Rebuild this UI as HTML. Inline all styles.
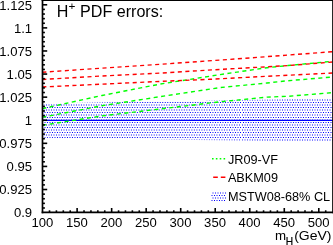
<!DOCTYPE html>
<html><head><meta charset="utf-8"><title>H+ PDF errors</title>
<style>html,body{margin:0;padding:0;background:#fff;overflow:hidden}svg{display:block}text{font-family:"Liberation Sans",sans-serif;fill:#000}</style>
</head><body>
<svg width="333" height="245" viewBox="0 0 333 245">
<defs>
<filter id="soft" x="-5%" y="-5%" width="110%" height="110%" color-interpolation-filters="sRGB"><feGaussianBlur stdDeviation="0.35"/></filter>
<clipPath id="plot"><rect x="42.5" y="0" width="290.1" height="212.4"/></clipPath>
</defs>
<rect width="333" height="245" fill="#fff"/>
<clipPath id="band"><polygon points="43.4,103.59 332.6,98.30 332.6,142.04 43.4,137.76"/></clipPath>
<g stroke="#0000ff" stroke-width="1.0" clip-path="url(#band)">
<line x1="206.42" y1="100.00" x2="240.04" y2="100.00" stroke-dasharray="1.0 1.5090"/>
<line x1="242.00" y1="100.00" x2="333.00" y2="100.00" stroke-dasharray="1.0 1.5000"/>
<line x1="69.48" y1="102.50" x2="137.91" y2="102.50" stroke-dasharray="1.0 1.4975"/>
<line x1="139.68" y1="102.50" x2="241.04" y2="102.50" stroke-dasharray="1.0 1.5090"/>
<line x1="243.00" y1="102.50" x2="334.00" y2="102.50" stroke-dasharray="1.0 1.5000"/>
<line x1="43.50" y1="105.00" x2="139.41" y2="105.00" stroke-dasharray="1.0 1.4975"/>
<line x1="141.18" y1="105.00" x2="240.04" y2="105.00" stroke-dasharray="1.0 1.5090"/>
<line x1="242.00" y1="105.00" x2="333.00" y2="105.00" stroke-dasharray="1.0 1.5000"/>
<line x1="44.50" y1="107.50" x2="137.91" y2="107.50" stroke-dasharray="1.0 1.4975"/>
<line x1="139.68" y1="107.50" x2="241.04" y2="107.50" stroke-dasharray="1.0 1.5090"/>
<line x1="243.00" y1="107.50" x2="334.00" y2="107.50" stroke-dasharray="1.0 1.5000"/>
<line x1="43.50" y1="110.00" x2="139.41" y2="110.00" stroke-dasharray="1.0 1.4975"/>
<line x1="141.18" y1="110.00" x2="240.04" y2="110.00" stroke-dasharray="1.0 1.5090"/>
<line x1="242.00" y1="110.00" x2="333.00" y2="110.00" stroke-dasharray="1.0 1.5000"/>
<line x1="44.50" y1="112.50" x2="137.91" y2="112.50" stroke-dasharray="1.0 1.4975"/>
<line x1="139.68" y1="112.50" x2="241.04" y2="112.50" stroke-dasharray="1.0 1.5090"/>
<line x1="243.00" y1="112.50" x2="334.00" y2="112.50" stroke-dasharray="1.0 1.5000"/>
<line x1="43.50" y1="115.00" x2="139.41" y2="115.00" stroke-dasharray="1.0 1.4975"/>
<line x1="141.18" y1="115.00" x2="240.04" y2="115.00" stroke-dasharray="1.0 1.5090"/>
<line x1="242.00" y1="115.00" x2="333.00" y2="115.00" stroke-dasharray="1.0 1.5000"/>
<line x1="44.50" y1="117.50" x2="137.91" y2="117.50" stroke-dasharray="1.0 1.4975"/>
<line x1="139.68" y1="117.50" x2="241.04" y2="117.50" stroke-dasharray="1.0 1.5090"/>
<line x1="243.00" y1="117.50" x2="334.00" y2="117.50" stroke-dasharray="1.0 1.5000"/>
<line x1="43.50" y1="120.00" x2="139.41" y2="120.00" stroke-dasharray="1.0 1.4975"/>
<line x1="141.18" y1="120.00" x2="240.04" y2="120.00" stroke-dasharray="1.0 1.5090"/>
<line x1="242.00" y1="120.00" x2="333.00" y2="120.00" stroke-dasharray="1.0 1.5000"/>
<line x1="44.50" y1="122.50" x2="137.91" y2="122.50" stroke-dasharray="1.0 1.4975"/>
<line x1="139.68" y1="122.50" x2="241.04" y2="122.50" stroke-dasharray="1.0 1.5090"/>
<line x1="243.00" y1="122.50" x2="334.00" y2="122.50" stroke-dasharray="1.0 1.5000"/>
<line x1="43.50" y1="125.00" x2="139.41" y2="125.00" stroke-dasharray="1.0 1.4975"/>
<line x1="141.18" y1="125.00" x2="240.04" y2="125.00" stroke-dasharray="1.0 1.5090"/>
<line x1="242.00" y1="125.00" x2="333.00" y2="125.00" stroke-dasharray="1.0 1.5000"/>
<line x1="44.50" y1="127.50" x2="137.91" y2="127.50" stroke-dasharray="1.0 1.4975"/>
<line x1="139.68" y1="127.50" x2="241.04" y2="127.50" stroke-dasharray="1.0 1.5090"/>
<line x1="243.00" y1="127.50" x2="334.00" y2="127.50" stroke-dasharray="1.0 1.5000"/>
<line x1="43.50" y1="130.00" x2="139.41" y2="130.00" stroke-dasharray="1.0 1.4975"/>
<line x1="141.18" y1="130.00" x2="240.04" y2="130.00" stroke-dasharray="1.0 1.5090"/>
<line x1="242.00" y1="130.00" x2="333.00" y2="130.00" stroke-dasharray="1.0 1.5000"/>
<line x1="44.50" y1="132.50" x2="137.91" y2="132.50" stroke-dasharray="1.0 1.4975"/>
<line x1="139.68" y1="132.50" x2="241.04" y2="132.50" stroke-dasharray="1.0 1.5090"/>
<line x1="243.00" y1="132.50" x2="334.00" y2="132.50" stroke-dasharray="1.0 1.5000"/>
<line x1="43.50" y1="135.00" x2="139.41" y2="135.00" stroke-dasharray="1.0 1.4975"/>
<line x1="141.18" y1="135.00" x2="240.04" y2="135.00" stroke-dasharray="1.0 1.5090"/>
<line x1="242.00" y1="135.00" x2="333.00" y2="135.00" stroke-dasharray="1.0 1.5000"/>
<line x1="44.50" y1="137.50" x2="137.91" y2="137.50" stroke-dasharray="1.0 1.4975"/>
<line x1="139.68" y1="137.50" x2="241.04" y2="137.50" stroke-dasharray="1.0 1.5090"/>
<line x1="243.00" y1="137.50" x2="334.00" y2="137.50" stroke-dasharray="1.0 1.5000"/>
<line x1="153.73" y1="140.00" x2="240.04" y2="140.00" stroke-dasharray="1.0 1.5090"/>
<line x1="242.00" y1="140.00" x2="333.00" y2="140.00" stroke-dasharray="1.0 1.5000"/>
<line x1="323.00" y1="142.50" x2="334.00" y2="142.50" stroke-dasharray="1.0 1.5000"/>
</g>
<line x1="42.6" y1="120.33" x2="332.6" y2="120.33" stroke="#0000ff" stroke-width="1.3"/>
<polyline points="42.3,108.6 102.0,95.5 160.0,84.1 220.0,74.6 267.0,67.7 288.0,65.5 332.6,61.3" fill="none" stroke="#00ff00" stroke-width="1.4" stroke-dasharray="4.05 3.49" clip-path="url(#plot)"/>
<polyline points="42.3,117.3 102.0,105.7 160.0,96.7 220.0,87.6 267.0,83.0 288.0,80.7 332.6,77.0" fill="none" stroke="#00ff00" stroke-width="1.4" stroke-dasharray="4.05 3.49" clip-path="url(#plot)"/>
<polyline points="42.3,125.3 102.0,115.9 160.0,109.0 220.0,101.8 267.0,97.1 288.0,96.3 332.6,92.6" fill="none" stroke="#00ff00" stroke-width="1.4" stroke-dasharray="4.05 3.49" clip-path="url(#plot)"/>
<polyline points="42.3,72.2 160.0,64.3 245.0,58.3 332.6,51.7" fill="none" stroke="#ff0000" stroke-width="1.4" stroke-dasharray="4.05 3.49" clip-path="url(#plot)"/>
<polyline points="42.3,79.5 102.0,76.0 160.0,73.1 220.0,69.4 267.0,66.8 288.0,65.6 332.6,62.0" fill="none" stroke="#ff0000" stroke-width="1.4" stroke-dasharray="4.05 3.49" clip-path="url(#plot)"/>
<polyline points="42.3,87.0 160.0,81.4 210.0,79.3 267.0,76.3 332.6,73.0" fill="none" stroke="#ff0000" stroke-width="1.4" stroke-dasharray="4.05 3.49" clip-path="url(#plot)"/>
<g stroke="#000" stroke-width="1.7" fill="none" stroke-linecap="square">
<line x1="42.5" y1="0.15" x2="42.5" y2="212.45"/>
<line x1="42.5" y1="212.45" x2="333.0" y2="212.45"/>
<line x1="333.0" y1="0.15" x2="333.0" y2="212.45"/>
<line x1="42.5" y1="0.15" x2="333.0" y2="0.15"/>
</g>
<g stroke="#000" stroke-width="1.6">
<line x1="42.5" y1="207.98" x2="44.9" y2="207.98"/>
<line x1="42.5" y1="203.36" x2="44.9" y2="203.36"/>
<line x1="42.5" y1="198.75" x2="44.9" y2="198.75"/>
<line x1="42.5" y1="194.13" x2="44.9" y2="194.13"/>
<line x1="42.5" y1="189.51" x2="47.2" y2="189.51"/>
<line x1="42.5" y1="184.89" x2="44.9" y2="184.89"/>
<line x1="42.5" y1="180.27" x2="44.9" y2="180.27"/>
<line x1="42.5" y1="175.66" x2="44.9" y2="175.66"/>
<line x1="42.5" y1="171.04" x2="44.9" y2="171.04"/>
<line x1="42.5" y1="166.42" x2="47.2" y2="166.42"/>
<line x1="42.5" y1="161.80" x2="44.9" y2="161.80"/>
<line x1="42.5" y1="157.18" x2="44.9" y2="157.18"/>
<line x1="42.5" y1="152.57" x2="44.9" y2="152.57"/>
<line x1="42.5" y1="147.95" x2="44.9" y2="147.95"/>
<line x1="42.5" y1="143.33" x2="47.2" y2="143.33"/>
<line x1="42.5" y1="138.71" x2="44.9" y2="138.71"/>
<line x1="42.5" y1="134.09" x2="44.9" y2="134.09"/>
<line x1="42.5" y1="129.48" x2="44.9" y2="129.48"/>
<line x1="42.5" y1="124.86" x2="44.9" y2="124.86"/>
<line x1="42.5" y1="120.24" x2="47.2" y2="120.24"/>
<line x1="42.5" y1="115.62" x2="44.9" y2="115.62"/>
<line x1="42.5" y1="111.00" x2="44.9" y2="111.00"/>
<line x1="42.5" y1="106.39" x2="44.9" y2="106.39"/>
<line x1="42.5" y1="101.77" x2="44.9" y2="101.77"/>
<line x1="42.5" y1="97.15" x2="47.2" y2="97.15"/>
<line x1="42.5" y1="92.53" x2="44.9" y2="92.53"/>
<line x1="42.5" y1="87.91" x2="44.9" y2="87.91"/>
<line x1="42.5" y1="83.30" x2="44.9" y2="83.30"/>
<line x1="42.5" y1="78.68" x2="44.9" y2="78.68"/>
<line x1="42.5" y1="74.06" x2="47.2" y2="74.06"/>
<line x1="42.5" y1="69.44" x2="44.9" y2="69.44"/>
<line x1="42.5" y1="64.82" x2="44.9" y2="64.82"/>
<line x1="42.5" y1="60.21" x2="44.9" y2="60.21"/>
<line x1="42.5" y1="55.59" x2="44.9" y2="55.59"/>
<line x1="42.5" y1="50.97" x2="47.2" y2="50.97"/>
<line x1="42.5" y1="46.35" x2="44.9" y2="46.35"/>
<line x1="42.5" y1="41.73" x2="44.9" y2="41.73"/>
<line x1="42.5" y1="37.12" x2="44.9" y2="37.12"/>
<line x1="42.5" y1="32.50" x2="44.9" y2="32.50"/>
<line x1="42.5" y1="27.88" x2="47.2" y2="27.88"/>
<line x1="42.5" y1="23.26" x2="44.9" y2="23.26"/>
<line x1="42.5" y1="18.64" x2="44.9" y2="18.64"/>
<line x1="42.5" y1="14.03" x2="44.9" y2="14.03"/>
<line x1="42.5" y1="9.41" x2="44.9" y2="9.41"/>
<line x1="42.5" y1="4.79" x2="47.2" y2="4.79"/>
<line x1="49.51" y1="212.45" x2="49.51" y2="210.3"/>
<line x1="56.41" y1="212.45" x2="56.41" y2="210.3"/>
<line x1="63.31" y1="212.45" x2="63.31" y2="210.3"/>
<line x1="70.22" y1="212.45" x2="70.22" y2="210.3"/>
<line x1="77.12" y1="212.45" x2="77.12" y2="208.0"/>
<line x1="84.03" y1="212.45" x2="84.03" y2="210.3"/>
<line x1="90.94" y1="212.45" x2="90.94" y2="210.3"/>
<line x1="97.84" y1="212.45" x2="97.84" y2="210.3"/>
<line x1="104.75" y1="212.45" x2="104.75" y2="210.3"/>
<line x1="111.65" y1="212.45" x2="111.65" y2="208.0"/>
<line x1="118.56" y1="212.45" x2="118.56" y2="210.3"/>
<line x1="125.46" y1="212.45" x2="125.46" y2="210.3"/>
<line x1="132.37" y1="212.45" x2="132.37" y2="210.3"/>
<line x1="139.27" y1="212.45" x2="139.27" y2="210.3"/>
<line x1="146.18" y1="212.45" x2="146.18" y2="208.0"/>
<line x1="153.08" y1="212.45" x2="153.08" y2="210.3"/>
<line x1="159.99" y1="212.45" x2="159.99" y2="210.3"/>
<line x1="166.89" y1="212.45" x2="166.89" y2="210.3"/>
<line x1="173.79" y1="212.45" x2="173.79" y2="210.3"/>
<line x1="180.70" y1="212.45" x2="180.70" y2="208.0"/>
<line x1="187.60" y1="212.45" x2="187.60" y2="210.3"/>
<line x1="194.51" y1="212.45" x2="194.51" y2="210.3"/>
<line x1="201.41" y1="212.45" x2="201.41" y2="210.3"/>
<line x1="208.32" y1="212.45" x2="208.32" y2="210.3"/>
<line x1="215.22" y1="212.45" x2="215.22" y2="208.0"/>
<line x1="222.13" y1="212.45" x2="222.13" y2="210.3"/>
<line x1="229.03" y1="212.45" x2="229.03" y2="210.3"/>
<line x1="235.94" y1="212.45" x2="235.94" y2="210.3"/>
<line x1="242.84" y1="212.45" x2="242.84" y2="210.3"/>
<line x1="249.75" y1="212.45" x2="249.75" y2="208.0"/>
<line x1="256.66" y1="212.45" x2="256.66" y2="210.3"/>
<line x1="263.56" y1="212.45" x2="263.56" y2="210.3"/>
<line x1="270.47" y1="212.45" x2="270.47" y2="210.3"/>
<line x1="277.37" y1="212.45" x2="277.37" y2="210.3"/>
<line x1="284.28" y1="212.45" x2="284.28" y2="208.0"/>
<line x1="291.18" y1="212.45" x2="291.18" y2="210.3"/>
<line x1="298.09" y1="212.45" x2="298.09" y2="210.3"/>
<line x1="304.99" y1="212.45" x2="304.99" y2="210.3"/>
<line x1="311.90" y1="212.45" x2="311.90" y2="210.3"/>
<line x1="318.80" y1="212.45" x2="318.80" y2="208.0"/>
<line x1="325.71" y1="212.45" x2="325.71" y2="210.3"/>
</g>
<line x1="212.0" y1="158.8" x2="225.6" y2="158.8" stroke="#00ff00" stroke-width="1.5" stroke-dasharray="1.6 2.25"/>
<line x1="213.2" y1="177.2" x2="225.6" y2="177.2" stroke="#ff0000" stroke-width="1.5" stroke-dasharray="4.6 3"/>
<g stroke="#0000ff" stroke-width="1.0">
<line x1="212.50" y1="193.00" x2="226.00" y2="193.00" stroke-dasharray="1.0 1.5000"/>
<line x1="211.50" y1="195.50" x2="225.00" y2="195.50" stroke-dasharray="1.0 1.5000"/>
<line x1="212.50" y1="198.00" x2="226.00" y2="198.00" stroke-dasharray="1.0 1.5000"/>
<line x1="211.50" y1="200.50" x2="225.00" y2="200.50" stroke-dasharray="1.0 1.5000"/>
</g>
<g filter="url(#soft)">
<g font-size="13.1">
<text x="32.1" y="217.30" text-anchor="end">0.9</text>
<text x="32.1" y="194.21" text-anchor="end">0.925</text>
<text x="32.1" y="171.12" text-anchor="end">0.95</text>
<text x="32.1" y="148.03" text-anchor="end">0.975</text>
<text x="32.1" y="124.94" text-anchor="end">1</text>
<text x="32.1" y="101.85" text-anchor="end">1.025</text>
<text x="32.1" y="78.76" text-anchor="end">1.05</text>
<text x="32.1" y="55.67" text-anchor="end">1.075</text>
<text x="32.1" y="32.58" text-anchor="end">1.1</text>
<text x="32.1" y="9.49" text-anchor="end">1.125</text>
<text x="42.40" y="226.6" text-anchor="middle">100</text>
<text x="76.92" y="226.6" text-anchor="middle">150</text>
<text x="111.45" y="226.6" text-anchor="middle">200</text>
<text x="145.98" y="226.6" text-anchor="middle">250</text>
<text x="180.50" y="226.6" text-anchor="middle">300</text>
<text x="215.03" y="226.6" text-anchor="middle">350</text>
<text x="249.55" y="226.6" text-anchor="middle">400</text>
<text x="284.08" y="226.6" text-anchor="middle">450</text>
<text x="318.60" y="226.6" text-anchor="middle">500</text>
</g>
<text x="56.8" y="17.3" font-size="16.1">H<tspan font-size="11.8" dy="-6.9">+</tspan><tspan dy="6.9" dx="0.3"> PDF errors:</tspan></text>
<g font-size="12.7">
<text x="227.9" y="164.3">JR09-VF</text>
<text x="227.9" y="182.3">ABKM09</text>
<text x="227.9" y="200.8">MSTW08-68% CL</text>
</g>
<text x="275.1" y="240.3" font-size="13.3">m</text>
<text x="285.8" y="245.3" font-size="10.2" stroke="#000" stroke-width="0.2">H</text>
<text x="294.2" y="240.3" font-size="13.3" textLength="37.3" lengthAdjust="spacingAndGlyphs">(GeV)</text>
</g>
</svg>
</body></html>
